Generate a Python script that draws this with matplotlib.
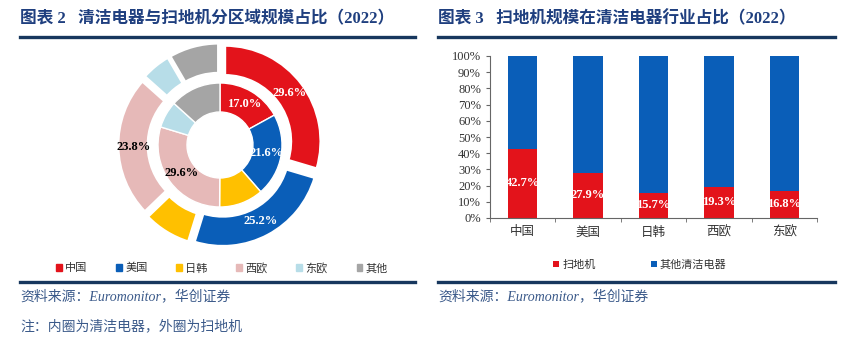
import matplotlib
matplotlib.use('Agg')
import matplotlib.pyplot as plt
import numpy as np

plt.rcParams['font.family'] = ['Liberation Serif', 'Noto Sans CJK SC', 'DejaVu Sans']

# donut data (inner: cleaning appliances, outer: robot vacuums)
regions = ['中国', '美国', '日韩', '西欧', '东欧', '其他']
inner_share = [17.0, 21.6, 11.5, 29.6, 7.0, 13.3]
outer_share = [29.6, 25.2, 8.0, 23.8, 5.0, 8.4]
inner_show = [True, True, False, True, False, False]
outer_show = [True, True, False, True, False, False]

# stacked bar data
bar_regions = ['中国', '美国', '日韩', '西欧', '东欧']
robot_share = [42.7, 27.9, 15.7, 19.3, 16.8]

pie_colors = ['#E3131B', '#0A5EB8', '#FFC000', '#E6B9B8', '#B7DDE8', '#A5A5A5']
label_colors = ['white', 'white', 'black', 'black', 'black', 'black']
title_color = '#1F3F7F'
rule_color = '#17375E'
src_color = '#3B5A8A'

W, H = 864, 338
fig = plt.figure(figsize=(W / 100, H / 100), dpi=100)

def px(x0, y0, w, h):
    # pixel box (top-left origin) -> figure fraction
    return [x0 / W, 1 - (y0 + h) / H, w / W, h / H]

def hline(x0, x1, y, lw=2.4):
    fig.add_artist(plt.Line2D([x0 / W, x1 / W], [1 - y / H, 1 - y / H],
                              color=rule_color, lw=lw, transform=fig.transFigure))

# titles and rules
fig.text(20 / W, 1 - 19 / H, '图表 2   清洁电器与扫地机分区域规模占比（2022）',
         fontsize=12, fontweight='bold', color=title_color, va='center')
fig.text(438 / W, 1 - 19 / H, '图表 3   扫地机规模在清洁电器行业占比（2022）',
         fontsize=12, fontweight='bold', color=title_color, va='center')
hline(20, 415, 37)
hline(438, 835, 37)
hline(20, 415, 282)
hline(438, 835, 282)

fig.text(20 / W, 1 - 296 / H, '资料来源：Euromonitor，华创证券', fontsize=10,
         style='italic', color=src_color, va='center')
fig.text(20 / W, 1 - 326 / H, '注：内圈为清洁电器，外圈为扫地机', fontsize=10,
         style='italic', color=src_color, va='center')
fig.text(438 / W, 1 - 296 / H, '资料来源：Euromonitor，华创证券', fontsize=10,
         style='italic', color=src_color, va='center')

# ---- donut ----
ax1 = fig.add_axes(px(110, 35, 220, 220))
wp = dict(width=0.30, edgecolor='white', linewidth=2)

def make_pct(shares, show):
    it = iter(range(len(shares)))
    def f(p):
        i = next(it)
        return f'{shares[i]:.1f}%' if show[i] else ''
    return f

wedges_o, _, at_o = ax1.pie(outer_share, radius=0.96, colors=pie_colors,
                             startangle=90, counterclock=False,
                             explode=[0.06] * 6, wedgeprops=wp,
                             autopct=make_pct(outer_share, outer_show), pctdistance=0.84)
wedges_i, _, at_i = ax1.pie(inner_share, radius=0.62, colors=pie_colors,
                             startangle=90, counterclock=False,
                             wedgeprops=dict(width=0.29, edgecolor='white', linewidth=1),
                             autopct=make_pct(inner_share, inner_show), pctdistance=0.76)
for texts in (at_o, at_i):
    for t, c in zip(texts, label_colors):
        t.set_color(c)
        t.set_fontweight('bold')
        t.set_fontsize(9)
ax1.set_xlim(-1.1, 1.1)
ax1.set_ylim(-1.1, 1.1)
ax1.set_aspect('equal')
ax1.axis('off')

handles = [plt.Rectangle((0, 0), 1, 1, color=c) for c in pie_colors]
fig.legend(handles, regions, loc='center', bbox_to_anchor=(222 / W, 1 - 268 / H),
           ncol=6, frameon=False, fontsize=8, handlelength=0.5, handleheight=0.5,
           handletextpad=0.3, columnspacing=2.6, labelcolor='#333333')

# ---- stacked bars ----
ax2 = fig.add_axes(px(490, 56, 327, 162))
x = np.arange(len(bar_regions))
robot = np.array(robot_share) / 100
other = 1 - robot
ax2.bar(x, robot, width=0.45, color='#E3131B', label='扫地机')
ax2.bar(x, other, width=0.45, bottom=robot, color='#0A5EB8', label='其他清洁电器')
for xi, v in zip(x, robot_share):
    ax2.text(xi, v / 200, f'{v:.1f}%', ha='center', va='center', color='white',
             fontsize=9, fontweight='bold')

ax2.set_xlim(-0.5, 4.5)
ax2.set_ylim(0, 1)
ax2.set_yticks(np.linspace(0, 1, 11))
ax2.set_yticklabels([f'{int(v)}%' for v in np.linspace(0, 100, 11)])
ax2.set_xticks(x)
ax2.set_xticklabels(bar_regions)
ax2.set_xticks(np.arange(-0.5, 5, 1), minor=True)
ax2.tick_params(axis='x', which='major', length=0, labelsize=9, colors='#333333', pad=6)
ax2.tick_params(axis='x', which='minor', length=3, color='#666666')
ax2.tick_params(axis='y', length=3, labelsize=9, colors='#333333', color='#666666')
for s in ('top', 'right'):
    ax2.spines[s].set_visible(False)
for s in ('left', 'bottom'):
    ax2.spines[s].set_color('#666666')

fig.legend(*ax2.get_legend_handles_labels(), loc='center',
           bbox_to_anchor=(640 / W, 1 - 265 / H), ncol=2, frameon=False,
           fontsize=8, handlelength=0.5, handleheight=0.5, handletextpad=0.3,
           columnspacing=5.0, labelcolor='#333333')

fig.savefig('out.png', dpi=100)
